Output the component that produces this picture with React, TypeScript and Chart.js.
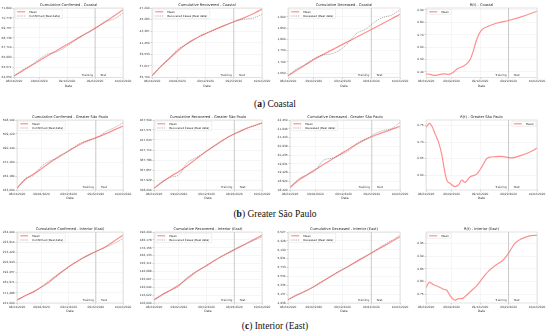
import React, { useEffect, useRef } from 'react';
import { Chart, registerables } from 'chart.js';

Chart.register(...registerables);
Chart.defaults.font.family = '"DejaVu Sans", sans-serif';

// ---------------- data ----------------
const days = [0, 3, 6, 9, 12, 15, 18, 21, 24, 27, 30, 33, 36, 39];
const tickDays = [0, 9, 19, 29, 39];
const tickLabels = ['08/24/2020', '09/02/2020', '09/12/2020', '09/22/2020', '10/02/2020'];
const splitDay = 29;

const coastalConfirmedMean = [64800, 65330, 65850, 66370, 66880, 67380, 67880, 68380, 68880, 69380, 69900, 70450, 71030, 71620];
const coastalConfirmedReal = [64800, 65400, 65880, 66520, 67060, 67250, 67720, 68280, 68900, 69330, 69870, 70380, 70700, 71280];
const coastalRecoveredMean = [36000, 37450, 38800, 40050, 41150, 42050, 42750, 43400, 44000, 44550, 45100, 45650, 46300, 47000];
const coastalRecoveredReal = [36000, 37500, 38750, 40300, 41150, 42000, 42800, 43350, 43950, 44550, 45100, 45350, 45550, 46150];
const coastalDeceasedMean = [1638, 1662, 1686, 1710, 1731, 1751, 1771, 1791, 1811, 1831, 1851, 1871, 1891, 1912];
const coastalDeceasedReal = [1638, 1668, 1688, 1714, 1730, 1735, 1752, 1785, 1828, 1845, 1876, 1898, 1908, 1932];
const rtCoastalDays = [0, 1.5, 3, 5, 6.5, 8, 9.5, 11, 12.5, 14, 15.5, 16.5, 17.5, 18.5, 19.6, 21.5, 25, 29, 34, 39];
const rtCoastal = [0.385, 0.38, 0.372, 0.38, 0.385, 0.38, 0.395, 0.425, 0.44, 0.46, 0.5, 0.56, 0.64, 0.7, 0.74, 0.765, 0.795, 0.815, 0.848, 0.89];

const gspConfirmedMean = [435500, 447500, 454500, 462000, 470000, 477500, 484000, 490500, 496500, 501500, 505500, 510000, 515000, 520000];
const gspConfirmedReal = [435500, 448000, 453000, 465000, 472500, 476500, 484000, 491500, 498000, 501000, 505000, 513000, 518000, 524500];
const gspRecoveredMean = [331500, 344000, 355000, 365000, 376500, 389000, 401500, 413000, 424000, 434000, 442500, 449500, 456000, 462000];
const gspRecoveredReal = [331500, 344500, 353500, 358000, 382000, 392000, 402000, 412500, 423500, 434500, 442000, 450500, 455500, 461000];
const gspDeceasedMean = [18560, 18980, 19290, 19600, 19900, 20200, 20500, 20800, 21080, 21350, 21560, 21740, 21910, 22080];
const gspDeceasedReal = [18560, 19050, 19300, 19550, 20150, 20250, 20450, 20700, 21150, 21350, 21650, 21850, 21950, 22320];
const rtGspDays = [0, 1.2, 2.1, 3.2, 4.4, 5.6, 6.5, 7.3, 8.5, 10.2, 11.4, 12.6, 13.7, 15.5, 17.8, 19.6, 21.3, 23, 26.5, 30, 33.5, 36.5, 39];
const rtGsp = [0.745, 0.757, 0.748, 0.725, 0.7, 0.66, 0.615, 0.585, 0.575, 0.565, 0.57, 0.585, 0.578, 0.595, 0.603, 0.625, 0.65, 0.655, 0.657, 0.652, 0.66, 0.67, 0.682];

const interiorConfirmedMean = [164000, 168500, 172500, 177500, 183000, 190000, 196500, 202000, 207000, 211500, 215500, 220000, 225500, 231000];
const interiorConfirmedReal = [164000, 168700, 172300, 177800, 184500, 190500, 196000, 202000, 207500, 211500, 215500, 219000, 223000, 227600];
const interiorRecoveredMean = [110000, 116500, 122500, 129000, 137000, 145000, 151500, 158000, 164500, 170000, 175500, 181000, 186500, 192000];
const interiorRecoveredReal = [110000, 117000, 122000, 127500, 138500, 145500, 151500, 158000, 164500, 170000, 176000, 180500, 185500, 190000];
const interiorDeceasedMean = [5010, 5110, 5205, 5300, 5420, 5540, 5650, 5760, 5870, 5980, 6090, 6200, 6310, 6420];
const interiorDeceasedReal = [5010, 5125, 5195, 5310, 5430, 5530, 5660, 5750, 5880, 5990, 6100, 6225, 6335, 6455];
const rtInteriorDays = [0, 1.2, 2.7, 4.4, 6.2, 7.3, 8.5, 10.2, 11.4, 12.6, 13.7, 16.1, 17.8, 19.6, 21.9, 24.2, 27.1, 28.9, 31.2, 33.5, 36.4, 39];
const rtInterior = [0.776, 0.797, 0.788, 0.78, 0.77, 0.766, 0.744, 0.727, 0.733, 0.733, 0.741, 0.766, 0.783, 0.81, 0.84, 0.862, 0.885, 0.91, 0.95, 0.968, 0.98, 0.982];

// axis limits [min, max] and tick steps
const yLimits = [
  [64650, 71800], [35700, 47200], [1630, 1940], [0.355, 0.916],
  [433200, 528100], [328000, 467500], [18420, 22450], [0.555, 0.767],
  [161000, 234400], [106000, 196200], [4938, 6527], [0.716, 0.995],
];
const ySteps = [1000, 2000, 50, 0.1, 20000, 20000, 500, 0.05, 10000, 10000, 200, 0.05];

const regions = ['Coastal', 'Greater São Paulo', 'Interior (East)'];
const captionLetters = ['a', 'b', 'c'];

// ---------------- layout ----------------
const rowBoxes = [
  { top: 0, height: 89, plotTop: 8, plotBottom: 77.5, caption: 104 },
  { top: 110, height: 91, plotTop: 120, plotBottom: 190, caption: 214.5 },
  { top: 220, height: 94, plotTop: 232, plotBottom: 303, caption: 326 },
];
const colBoxes = [
  { left: 0, width: 140, plotRight: 123 },
  { left: 135, width: 140, plotRight: 262 },
  { left: 270, width: 140, plotRight: 400 },
  { left: 405, width: 145, plotRight: 537 },
];
const plotLefts = [
  [14, 152, 288, 426],
  [17, 154, 290, 426],
  [17, 154, 288, 426],
];

type Series = { label: string; x: number[]; y: number[]; real: boolean };
type PanelSpec = { title: string; series: Series[]; legendRight?: boolean; dec: number };

const mk = (label: string, x: number[], y: number[], real: boolean): Series => ({ label, x, y, real });

const panels: PanelSpec[] = [
  { title: 'Cumulative Confirmed - Coastal', dec: 0, series: [mk('Mean', days, coastalConfirmedMean, false), mk('Confirmed (Real data)', days, coastalConfirmedReal, true)] },
  { title: 'Cumulative Recovered - Coastal', dec: 0, series: [mk('Mean', days, coastalRecoveredMean, false), mk('Recovered Cases (Real data)', days, coastalRecoveredReal, true)] },
  { title: 'Cumulative Deceased - Coastal', dec: 0, series: [mk('Mean', days, coastalDeceasedMean, false), mk('Deceased (Real data)', days, coastalDeceasedReal, true)] },
  { title: 'R(t) - Coastal', dec: 2, series: [mk('Mean', rtCoastalDays, rtCoastal, false)] },
  { title: 'Cumulative Confirmed - Greater São Paulo', dec: 0, series: [mk('Mean', days, gspConfirmedMean, false), mk('Confirmed (Real data)', days, gspConfirmedReal, true)] },
  { title: 'Cumulative Recovered - Greater São Paulo', dec: 0, series: [mk('Mean', days, gspRecoveredMean, false), mk('Recovered Cases (Real data)', days, gspRecoveredReal, true)] },
  { title: 'Cumulative Deceased - Greater São Paulo', dec: 0, series: [mk('Mean', days, gspDeceasedMean, false), mk('Deceased (Real data)', days, gspDeceasedReal, true)] },
  { title: 'R(t) - Greater São Paulo', dec: 2, legendRight: true, series: [mk('Mean', rtGspDays, rtGsp, false)] },
  { title: 'Cumulative Confirmed - Interior (East)', dec: 0, series: [mk('Mean', days, interiorConfirmedMean, false), mk('Confirmed (Real data)', days, interiorConfirmedReal, true)] },
  { title: 'Cumulative Recovered - Interior (East)', dec: 0, series: [mk('Mean', days, interiorRecoveredMean, false), mk('Recovered Cases (Real data)', days, interiorRecoveredReal, true)] },
  { title: 'Cumulative Deceased - Interior (East)', dec: 0, series: [mk('Mean', days, interiorDeceasedMean, false), mk('Deceased (Real data)', days, interiorDeceasedReal, true)] },
  { title: 'R(t) - Interior (East)', dec: 2, series: [mk('Mean', rtInteriorDays, rtInterior, false)] },
];

const MEAN_COLOR = 'rgba(255,115,115,0.8)';
const REAL_COLOR = '#6a6a6a';
const FONT = '"DejaVu Sans", sans-serif';

const decorPlugin = {
  id: 'decor',
  beforeDatasetsDraw(chart: any, _a: any, o: any) {
    const { ctx, chartArea: a, scales } = chart;
    const x = scales.x.getPixelForValue(o.split);
    ctx.save();
    ctx.strokeStyle = '#b8b8b8';
    ctx.lineWidth = 0.7;
    ctx.beginPath();
    ctx.moveTo(x, a.top);
    ctx.lineTo(x, a.bottom);
    ctx.stroke();
    ctx.restore();
  },
  afterDraw(chart: any, _a: any, o: any) {
    const { ctx, chartArea: a, scales } = chart;
    ctx.save();
    // frame
    ctx.strokeStyle = '#cfcfcf';
    ctx.lineWidth = 0.6;
    ctx.strokeRect(a.left, a.top, a.right - a.left, a.bottom - a.top);
    // title
    ctx.fillStyle = '#222';
    ctx.font = `3.6px ${FONT}`;
    ctx.textAlign = 'center';
    ctx.textBaseline = 'middle';
    ctx.fillText(o.title, (a.left + a.right) / 2, a.top - 3.2);
    // training / test
    const sx = scales.x.getPixelForValue(o.split);
    ctx.font = `2.9px ${FONT}`;
    ctx.fillStyle = '#333';
    ctx.textAlign = 'right';
    ctx.fillText('Training', sx - 2, a.bottom - 2.5);
    ctx.textAlign = 'left';
    ctx.fillText('Test', sx + 5.3, a.bottom - 2.5);
    // legend
    const dsets = chart.data.datasets;
    ctx.font = `2.8px ${FONT}`;
    let tw = 0;
    dsets.forEach((d: any) => { tw = Math.max(tw, ctx.measureText(d.label).width); });
    const rowH = 4.2;
    const bw = 14.5 + tw + 1.8;
    const bh = dsets.length * rowH + 1;
    const bx = o.legendRight ? a.right - 1.2 - bw : a.left + 1.2;
    const by = a.top + 1.2;
    ctx.fillStyle = 'rgba(255,255,255,0.85)';
    ctx.strokeStyle = '#d6d6d6';
    ctx.lineWidth = 0.4;
    ctx.beginPath();
    if ((ctx as any).roundRect) (ctx as any).roundRect(bx, by, bw, bh, 0.8); else ctx.rect(bx, by, bw, bh);
    ctx.fill();
    ctx.stroke();
    dsets.forEach((d: any, i: number) => {
      const cy = by + 0.5 + rowH * (i + 0.5);
      ctx.strokeStyle = d.borderColor;
      ctx.lineWidth = d.borderWidth;
      ctx.setLineDash(d.borderDash || []);
      ctx.beginPath();
      ctx.moveTo(bx + 2, cy);
      ctx.lineTo(bx + 10, cy);
      ctx.stroke();
      ctx.setLineDash([]);
      ctx.fillStyle = '#222';
      ctx.textAlign = 'left';
      ctx.textBaseline = 'middle';
      ctx.fillText(d.label, bx + 14, cy);
    });
    ctx.restore();
  },
};

function Panel({ idx }: { idx: number }) {
  const ref = useRef<HTMLCanvasElement>(null);
  const row = Math.floor(idx / 4);
  const col = idx % 4;
  const r = rowBoxes[row];
  const c = colBoxes[col];
  const plotLeft = plotLefts[row][col];
  const p = panels[idx];

  useEffect(() => {
    const [ymin, ymax] = yLimits[idx];
    const datasets = p.series.map((s) => ({
      label: s.label,
      data: s.x.map((d, i) => ({ x: d, y: s.y[i] })),
      borderColor: s.real ? REAL_COLOR : MEAN_COLOR,
      borderWidth: s.real ? 0.5 : 1.2,
      borderDash: s.real ? [1.3, 0.9] : [],
      pointRadius: 0,
      fill: false,
      cubicInterpolationMode: 'monotone' as const,
      order: s.real ? 0 : 1,
    }));
    const gridCfg = { color: '#ececec', lineWidth: 0.5, tickLength: 1.5, tickColor: '#888', tickWidth: 0.4 };
    const chart = new Chart(ref.current as HTMLCanvasElement, {
      type: 'line',
      data: { datasets },
      plugins: [decorPlugin as any],
      options: {
        responsive: false,
        animation: false,
        devicePixelRatio: 1,
        events: [],
        layout: { padding: { left: 0, top: r.plotTop - r.top, right: c.left + c.width - c.plotRight, bottom: 0 } },
        plugins: {
          legend: { display: false },
          tooltip: { enabled: false },
          title: { display: false },
          decor: { title: p.title, split: splitDay, legendRight: !!p.legendRight },
        } as any,
        scales: {
          x: {
            type: 'linear',
            min: 0,
            max: 39,
            afterBuildTicks: (s: any) => { s.ticks = tickDays.map((v) => ({ value: v })); },
            afterFit: (s: any) => { s.height = r.top + r.height - r.plotBottom; s.paddingLeft = 0; s.paddingRight = 0; },
            ticks: {
              autoSkip: false, maxRotation: 0, minRotation: 0, padding: 0.8,
              font: { size: 2.9 }, color: '#333',
              callback: (v: any) => { const k = tickDays.indexOf(Number(v)); return k >= 0 ? tickLabels[k] : ''; },
            },
            grid: gridCfg,
            border: { display: false },
            title: { display: true, text: 'Date', font: { size: 3.2 }, color: '#333', padding: { top: 0, bottom: 0.5 } },
          },
          y: {
            type: 'linear',
            min: ymin,
            max: ymax,
            afterFit: (s: any) => { s.width = plotLeft - c.left; s.paddingTop = 0; s.paddingBottom = 0; },
            ticks: {
              stepSize: ySteps[idx], includeBounds: false, padding: 0.8,
              font: { size: 2.9 }, color: '#333',
              callback: (v: any) => (p.dec ? Number(v).toFixed(p.dec) : Math.round(Number(v)).toLocaleString('en-US')),
            },
            grid: gridCfg,
            border: { display: false },
          },
        },
      } as any,
    });
    return () => chart.destroy();
  }, []);

  return (
    <canvas
      ref={ref}
      width={c.width}
      height={r.height}
      style={{ position: 'absolute', left: c.left, top: r.top, width: c.width, height: r.height }}
    />
  );
}

export default function App() {
  return (
    <div style={{ position: 'absolute', left: 0, top: 0, width: 550, height: 336, background: '#fff', overflow: 'hidden' }}>
      {panels.map((_, i) => <Panel key={i} idx={i} />)}
      {rowBoxes.map((r, i) => (
        <div
          key={'cap' + i}
          style={{
            position: 'absolute', left: 0, width: 550, top: r.caption - 5.5, height: 11, lineHeight: '11px',
            textAlign: 'center', fontFamily: '"Liberation Serif", "DejaVu Serif", serif', fontSize: 9.5, color: '#111',
          }}
        >
          (<b>{captionLetters[i]}</b>) {regions[i]}
        </div>
      ))}
    </div>
  );
}
